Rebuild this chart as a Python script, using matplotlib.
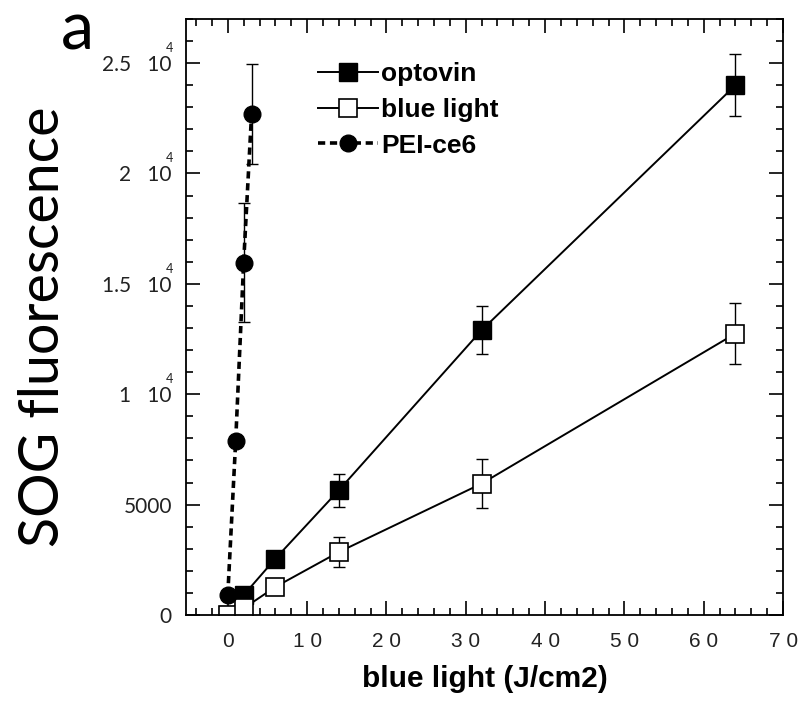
import numpy as np
import matplotlib
matplotlib.use("Agg")
import matplotlib.pyplot as plt
import matplotlib.transforms as mtransforms
from matplotlib.ticker import MultipleLocator, FuncFormatter

# data
opto_x = [0, 2, 6, 14, 32, 64]
opto_y = [0, 900, 2550, 5650, 12900, 24000]
opto_err = [150, 200, 250, 750, 1100, 1400]

blue_x = [0, 2, 6, 14, 32, 64]
blue_y = [0, 300, 1270, 2850, 5950, 12750]
blue_err = [100, 200, 280, 680, 1100, 1400]

pei_x = [0, 1, 2, 3]
pei_y = [900, 7900, 15950, 22700]
pei_err = [150, 200, 2700, 2250]

y_ticks = [0, 5000, 10000, 15000, 20000, 25000]

fig = plt.figure(figsize=(8.04, 7.02), dpi=100)
ax = fig.add_axes([0.231, 0.124, 0.743, 0.849])

# error bars (kept out of the legend)
for x, y, e in [(opto_x, opto_y, opto_err), (blue_x, blue_y, blue_err), (pei_x, pei_y, pei_err)]:
    ax.errorbar(x, y, yerr=e, fmt='none', ecolor='black', elinewidth=1, capsize=4, capthick=1)

ax.plot(opto_x, opto_y, color='black', lw=1.4, marker='s', ms=13,
        mfc='black', mec='black', label='optovin')
ax.plot(blue_x, blue_y, color='black', lw=1.4, marker='s', ms=13,
        mfc='white', mec='black', mew=1.2, label='blue light')
ax.plot(pei_x, pei_y, color='black', lw=2.6, ls=(0, (2.0, 1.3)), marker='o', ms=12,
        mfc='black', mec='black', label='PEI-ce6')

ax.set_xlim(-5.3, 70)
ax.set_ylim(0, 27000)
ax.xaxis.set_major_locator(MultipleLocator(10))
ax.xaxis.set_minor_locator(MultipleLocator(2))
ax.set_yticks(y_ticks)
ax.yaxis.set_minor_locator(MultipleLocator(1000))
ax.tick_params(which='both', direction='in', top=True, right=True, width=1.2)
ax.tick_params(which='major', length=10)
ax.tick_params(which='minor', length=5)
ax.tick_params(axis='x', pad=12)
ax.tick_params(axis='y', pad=10)
for s in ax.spines.values():
    s.set_linewidth(1.3)


def yfmt(v, pos):
    if v < 10000:
        return '%d' % v
    return ('%g' % (v / 1e4)) + '   10'


def xfmt(v, pos):
    return ' '.join(str(int(round(v))))


ax.yaxis.set_major_formatter(FuncFormatter(yfmt))
ax.xaxis.set_major_formatter(FuncFormatter(xfmt))
for t in ax.get_yticklabels():
    t.set_family('Lato')
    t.set_fontsize(15)
    t.set_color('#222222')
for t in ax.get_xticklabels():
    t.set_family('Liberation Sans')
    t.set_fontsize(15)
    t.set_color('#222222')

# exponent of the "10", sitting just over the zero
trans = mtransforms.blended_transform_factory(ax.transAxes, ax.transData) + \
    mtransforms.ScaledTranslation(-16 / 100, 15 / 100, fig.dpi_scale_trans)
for v in y_ticks:
    if v >= 10000:
        ax.text(0, v, '4', transform=trans, fontsize=9, family='Lato', color='#222222',
                ha='center', va='center')

ax.set_xlabel('blue light (J/cm2)', fontsize=21.5, fontweight='bold', family='Liberation Sans', labelpad=10)
ax.set_ylabel('SOG fluorescence', fontsize=40, family='Lato')
ax.yaxis.set_label_coords(-0.196, 0.483)

ax.legend(loc='upper left', bbox_to_anchor=(0.221, 0.928), frameon=False, handlelength=2.3,
          handletextpad=0.1, labelspacing=0.45, borderaxespad=0, borderpad=0,
          prop={'family': 'Liberation Sans', 'weight': 'bold', 'size': 19})

fig.text(0.076, 0.9288, 'a', fontsize=48, family='Lato', va='baseline', ha='left')

fig.savefig('out.png', dpi=100)
